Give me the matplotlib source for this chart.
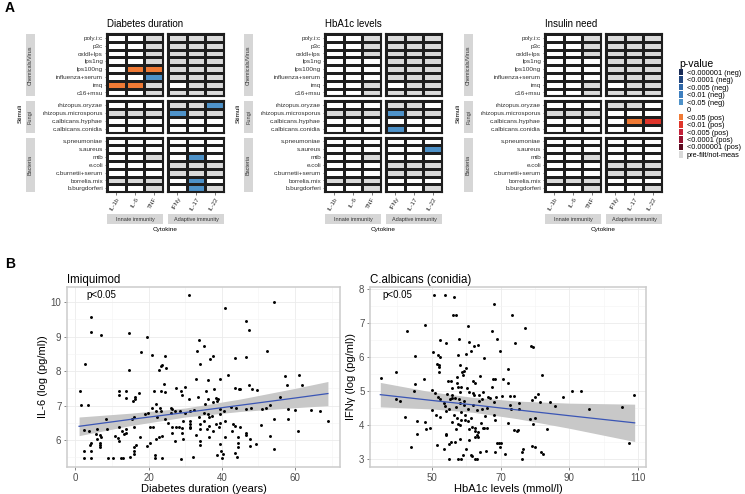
import numpy as np
import matplotlib
matplotlib.use("Agg")
import matplotlib.pyplot as plt
from matplotlib.colors import ListedColormap
from matplotlib.patches import Patch
from matplotlib.ticker import FixedLocator

plt.rcParams["font.family"] = ["Liberation Sans", "DejaVu Sans"]

# ---------------- data: panel A heatmaps ----------------
stimuli = ["poly.i:c", "p3c", "oxldl+lps", "lps1ng", "lps100ng", "influenza+serum", "imq", "c16+msu",
           "rhizopus.oryzae", "rhizopus.microsporus", "c.albicans.hyphae", "c.albicans.conidia",
           "s.pneumoniae", "s.aureus", "mtb", "e.coli", "c.burnetii+serum", "borrelia.mix", "b.burgdorferi"]
stim_groups = ["Chemicals/Virus", "Fungi", "Bacteria"]
group_sizes = [8, 4, 7]
cytokines = ["IL-1b", "IL-6", "TNF", "IFNy", "IL-17", "IL-22"]
cyto_groups = ["Innate immunity", "Adaptive immunity"]
panel_titles = ["Diabetes duration", "HbA1c levels", "Insulin need"]

# w = 0 / not significant, g = pre-filt/not-meas, b = <0.05 (neg), o = <0.05 (pos), r = <0.01 (pos)
cells_duration = ["wwgggg", "wwgggg", "wwgggg", "wwgggg", "wooggg", "wwbggg", "oogwgg", "wwgggg",
                  "wwwggb", "gggbgg", "wwwwww", "wwwwww",
                  "wwwwww", "wwwwww", "wwgwbw", "wwwggg", "wwwggg", "gggwbw", "wwgwbg"]
cells_hba1c = ["wwgggg", "wwgggg", "wwgggg", "wwwggg", "wwwggg", "wwwggg", "wwgwgg", "wwgggg",
               "wwwggw", "gggbgg", "wwwwww", "wwwbww",
               "wwwwww", "wwwwwb", "wwgwww", "wwwggg", "wwwggg", "gggwww", "wwgwwg"]
cells_insulin = ["wwgggg", "wwgggg", "wwgggg", "wwwggg", "wwwggg", "wwwggg", "wwgwgg", "wwgggg",
                 "wwwggw", "gggwww", "wwwwor", "wwwwww",
                 "wwwwww", "wwwwww", "wwgwww", "wwwggg", "wwwggg", "gggwww", "wwgwwg"]
panel_cells = [cells_duration, cells_hba1c, cells_insulin]

legend_labels = ["<0.000001 (neg)", "<0.0001 (neg)", "<0.005 (neg)", "<0.01 (neg)", "<0.05 (neg)", "0",
                 "<0.05 (pos)", "<0.01 (pos)", "<0.005 (pos)", "<0.0001 (pos)", "<0.000001 (pos)",
                 "pre-filt/not-meas"]
legend_colors = ["#172a55", "#22477f", "#2e66a6", "#3e7fbf", "#4e92c9", "#ffffff",
                 "#f07a35", "#e0352b", "#c42139", "#961331", "#5c0a1f", "#d9d9d9"]

# ---------------- data: panel B scatter plots ----------------
imq_x = [31.1, 54.2, 40.9, 4.3, 46.5, 47.4, 4.3, 14.7, 7.0, 19.5, 33.8, 35.0, 17.9, 33.2, 52.3, 46.7,
         20.8, 24.4, 37.6, 36.9, 43.6, 34.0, 2.5, 23.7, 23.5, 22.8, 14.6, 24.7, 57.2, 61.2, 41.8, 33.0,
         36.1, 39.6, 24.3, 30.0, 47.4, 57.9, 62.0, 48.3, 43.7, 44.6, 27.5, 28.9, 21.5, 17.3, 23.5, 24.4,
         11.9, 13.8, 11.9, 13.9, 16.4, 16.4, 15.6, 35.6, 38.0, 36.2, 37.6, 38.4, 38.7, 31.1, 29.1, 33.5,
         35.3, 39.0, 56.0, 53.1, 58.1, 48.1, 46.7, 44.0, 42.4, 39.5, 52.2, 51.0, 64.4, 60.0, 21.9, 20.8,
         21.9, 23.0, 23.5, 26.1, 26.3, 26.1, 27.2, 28.6, 30.0, 31.2, 32.5, 33.8, 35.1, 36.5, 37.4, 36.3,
         39.5, 40.5, 40.9, 39.5, 38.5, 39.3, 35.0, 34.0, 34.0, 36.5, 35.9, 37.5, 36.4, 34.0, 34.0, 32.9,
         31.3, 31.2, 31.2, 31.2, 29.4, 28.2, 29.1, 29.1, 26.3, 26.3, 27.4, 27.3, 29.3, 28.9, 32.2, 38.7,
         40.0, 40.2, 39.8, 43.6, 44.2, 39.4, 41.0, 42.7, 43.6, 43.1, 44.9, 44.4, 46.7, 47.8, 46.7, 44.5,
         44.5, 49.3, 47.6, 50.6, 54.2, 53.1, 54.4, 58.1, 60.8, 68.9, 2.4, 5.9, 3.7, 5.7, 5.9, 6.8,
         7.0, 6.8, 6.8, 6.8, 4.3, 4.1, 4.3, 2.3, 2.3, 4.3, 8.3, 8.6, 9.0, 10.2, 10.9, 11.5,
         11.9, 12.8, 13.2, 11.9, 12.4, 13.1, 13.7, 13.9, 15.9, 15.5, 15.9, 14.8, 15.9, 15.9, 15.9, 16.5,
         17.7, 19.1, 19.7, 19.5, 20.4, 20.4, 21.3, 21.7, 21.7, 21.9, 22.4, 22.8, 23.6, 23.7, 24.6, 25.3,
         1.2, 1.4, 3.4, 66.9, 45.1, 49.5]
imq_y = [10.22, 10.01, 9.83, 9.57, 9.46, 9.19, 9.13, 9.10, 9.05, 9.00, 8.89, 8.74, 8.56, 8.59, 8.57, 8.41,
         8.48, 8.43, 8.45, 8.36, 8.37, 8.21, 8.20, 8.18, 8.14, 8.04, 8.04, 8.10, 7.86, 7.88, 7.90, 7.76,
         7.75, 7.78, 7.62, 7.55, 7.59, 7.60, 7.59, 7.47, 7.52, 7.47, 7.50, 7.43, 7.43, 7.38, 7.43, 7.39,
         7.43, 7.43, 7.30, 7.23, 7.26, 7.20, 7.14, 7.43, 7.47, 7.18, 7.10, 7.21, 7.14, 7.19, 7.30, 7.26,
         7.05, 7.18, 7.26, 7.03, 6.90, 6.92, 6.89, 6.92, 6.96, 6.90, 6.92, 6.90, 6.87, 6.87, 7.04, 6.94,
         6.85, 6.94, 6.85, 6.94, 6.90, 6.80, 6.85, 6.85, 6.80, 6.85, 6.87, 6.68, 6.80, 6.66, 6.70, 6.77,
         6.75, 6.85, 6.56, 6.51, 6.48, 6.37, 6.56, 6.47, 6.32, 6.41, 6.32, 6.27, 6.10, 5.96, 5.87, 6.14,
         6.56, 6.46, 6.39, 6.34, 6.56, 6.37, 6.34, 6.22, 6.37, 6.22, 6.37, 5.96, 6.03, 5.45, 5.52, 5.56,
         5.48, 5.61, 5.69, 5.64, 5.50, 5.90, 6.08, 6.27, 6.41, 6.48, 6.37, 6.10, 6.22, 6.03, 6.15, 5.81,
         5.93, 5.88, 5.84, 6.44, 5.73, 6.13, 6.61, 6.61, 6.27, 6.56, 6.30, 6.33, 6.27, 6.17, 6.03, 6.15,
         6.08, 5.93, 5.87, 5.79, 5.93, 5.87, 5.69, 5.69, 5.47, 5.47, 6.61, 6.33, 5.47, 5.47, 6.13, 6.05,
         6.37, 6.27, 6.17, 5.98, 5.47, 5.47, 6.32, 6.22, 6.37, 6.61, 6.68, 5.51, 5.60, 5.69, 5.79, 5.86,
         6.10, 6.75, 6.80, 5.84, 5.93, 6.37, 6.37, 5.57, 5.47, 6.03, 6.66, 6.08, 5.47, 6.13, 6.61, 6.51,
         7.43, 7.01, 7.01, 6.85, 7.48, 7.45]

cand_x = [50.7, 53.9, 56.5, 68.2, 73.3, 56.2, 57.0, 48.1, 60.4, 77.2, 42.8, 67.6, 52.4, 54.0, 57.8, 68.9,
          60.9, 62.4, 63.5, 74.3, 78.7, 79.4, 50.3, 69.7, 59.8, 61.4, 51.7, 52.4, 45.2, 57.7, 65.3, 51.5,
          52.0, 58.2, 52.2, 59.9, 58.8, 59.4, 72.1, 39.6, 52.0, 59.0, 82.0, 63.9, 47.8, 54.8, 55.7, 57.4,
          62.0, 62.5, 67.7, 68.3, 70.7, 72.1, 35.3, 45.0, 39.7, 40.7, 44.8, 49.9, 50.8, 51.8, 52.5, 54.5,
          56.0, 55.8, 56.8, 57.8, 60.1, 60.9, 62.1, 62.4, 58.2, 59.4, 60.6, 63.7, 64.6, 66.2, 66.9, 68.7,
          70.4, 72.7, 73.8, 75.3, 75.3, 73.0, 79.1, 81.0, 80.0, 81.5, 84.5, 85.7, 88.1, 90.8, 93.4, 95.7,
          105.3, 108.9, 107.3, 50.0, 51.2, 52.5, 54.2, 54.9, 57.0, 56.4, 57.4, 58.6, 59.7, 59.7, 60.4, 61.3,
          61.8, 62.5, 62.6, 63.5, 63.2, 63.4, 64.8, 65.5, 66.1, 68.1, 68.3, 60.7, 57.7, 58.2, 57.0, 54.1,
          54.2, 55.7, 56.7, 58.2, 53.6, 55.1, 51.5, 48.4, 49.6, 42.3, 43.9, 45.6, 45.6, 48.1, 59.9, 61.4,
          61.6, 59.1, 62.5, 63.1, 55.1, 57.5, 58.6, 65.8, 69.0, 69.6, 70.2, 69.9, 71.2, 68.5, 76.2, 76.2,
          76.5, 79.1, 80.0, 81.8, 82.3, 74.8, 74.0, 75.2, 72.1, 83.6, 78.5, 79.3, 80.0, 72.6, 68.1, 66.1,
          63.2, 64.5, 62.1, 58.5, 55.9, 53.4, 53.8, 59.4, 65.0, 63.7, 67.4, 57.5, 57.3, 58.2, 55.2, 56.0,
          58.4, 64.2, 65.3, 62.5, 60.9, 64.0]
cand_y = [7.82, 7.82, 7.78, 7.58, 7.25, 7.24, 7.24, 6.96, 6.93, 6.87, 6.78, 6.77, 6.51, 6.43, 6.53, 6.53,
          6.45, 6.33, 6.35, 6.42, 6.33, 6.29, 6.17, 6.19, 6.09, 6.19, 6.08, 6.01, 6.04, 6.06, 5.98, 5.81,
          5.76, 5.78, 5.70, 5.69, 5.57, 5.61, 5.67, 5.57, 5.57, 5.49, 5.49, 5.45, 5.35, 5.29, 5.30, 5.25,
          5.31, 5.25, 5.35, 5.37, 5.35, 5.23, 5.39, 5.21, 4.76, 4.71, 5.00, 5.03, 4.94, 4.83, 4.76, 4.93,
          5.10, 4.88, 4.80, 4.78, 5.10, 4.98, 4.94, 4.90, 4.65, 4.61, 4.47, 4.71, 4.78, 4.83, 4.80, 4.84,
          4.86, 4.85, 4.85, 4.66, 4.49, 4.49, 4.75, 4.92, 4.84, 4.69, 4.69, 4.57, 4.84, 5.00, 5.00, 4.49,
          4.54, 4.88, 3.49, 4.46, 4.29, 4.25, 4.42, 4.47, 4.54, 4.30, 4.22, 4.14, 4.29, 4.15, 4.13, 4.20,
          3.96, 3.92, 3.83, 3.80, 3.71, 3.66, 3.91, 4.26, 3.93, 4.29, 4.16, 3.90, 4.05, 4.00, 3.90, 3.75,
          3.71, 3.51, 3.51, 3.59, 3.29, 3.46, 3.43, 3.90, 3.92, 4.25, 3.37, 3.74, 4.12, 4.10, 3.29, 3.12,
          3.10, 3.12, 3.00, 3.02, 3.00, 3.00, 3.00, 3.23, 3.49, 3.49, 3.49, 3.36, 3.14, 3.22, 3.01, 3.20,
          3.31, 3.38, 3.36, 3.21, 3.14, 3.83, 3.85, 3.85, 4.08, 3.90, 4.18, 4.03, 4.20, 4.59, 4.68, 4.52,
          4.44, 4.47, 4.60, 5.12, 4.80, 4.65, 4.58, 4.72, 4.98, 4.88, 5.13, 5.13, 5.42, 4.98, 4.78, 4.10,
          4.39, 4.07, 3.93, 3.64, 3.56, 3.22]

# fitted lm lines with 95% band
imq_fit_x = [1, 15, 30, 45, 60, 69]
imq_fit_y = [6.40, 6.60, 6.80, 7.01, 7.22, 7.35]
imq_fit_se = [0.27, 0.18, 0.13, 0.18, 0.28, 0.35]
cand_fit_x = [35, 50, 62, 75, 90, 109]
cand_fit_y = [4.90, 4.73, 4.60, 4.45, 4.28, 4.07]
cand_fit_se = [0.36, 0.25, 0.22, 0.26, 0.37, 0.55]

imq_xticks = [0, 20, 40, 60]
imq_yticks = [6, 7, 8, 9, 10]
cand_xticks = [50, 70, 90, 110]
cand_yticks = [3, 4, 5, 6, 7, 8]

W, H = 745, 494


def box(x0, y0, x1, y1):
    return [x0 / W, 1 - y1 / H, (x1 - x0) / W, (y1 - y0) / H]


fig = plt.figure(figsize=(W / 100, H / 100), dpi=100)

# ---------------- panel A ----------------
keys = "wgbor"
cmap = ListedColormap(["#ffffff", "#dadada", "#4e92c9", "#f07a35", "#e0352b"])
panel_x = [107, 325, 545]
group_y = [(34, 96.4), (101.4, 132.6), (137.6, 192.2)]
strip_grey = "#d6d6d6"

for p in range(3):
    bx = panel_x[p]
    rows = panel_cells[p]
    start = 0
    for g in range(3):
        n = group_sizes[g]
        grows = rows[start:start + n]
        glabels = stimuli[start:start + n]
        y0, y1 = group_y[g]
        for c in range(2):
            x0 = bx + c * 61
            ax = fig.add_axes(box(x0, y0, x0 + 56, y1))
            mat = np.array([[keys.index(ch) for ch in r[c * 3:c * 3 + 3]] for r in grows])
            ax.pcolormesh(mat, cmap=cmap, vmin=-0.5, vmax=4.5, edgecolors="#1e1e1e", linewidth=0.9)
            ax.set_xlim(0, 3)
            ax.set_ylim(n, 0)
            for s in ax.spines.values():
                s.set_linewidth(1.5)
                s.set_color("#1e1e1e")
            ax.tick_params(length=1.8, width=0.5, color="#444444", pad=1, labelsize=4.6, labelcolor="#333333")
            if c == 0:
                ax.set_yticks(np.arange(n) + 0.5, glabels)
            else:
                ax.set_yticks([])
            if g == 2:
                ax.set_xticks(np.arange(3) + 0.5, cytokines[c * 3:c * 3 + 3], rotation=60,
                              ha="right", rotation_mode="anchor")
            else:
                ax.set_xticks([])
        # row strip
        sax = fig.add_axes(box(bx - 81, y0, bx - 72, y1))
        sax.set_facecolor(strip_grey)
        sax.set_xticks([])
        sax.set_yticks([])
        for s in sax.spines.values():
            s.set_visible(False)
        sax.text(0.5, 0.5, stim_groups[g], rotation=90, ha="center", va="center",
                 fontsize=4, color="#333333", transform=sax.transAxes)
        start += n
    fig.text((bx - 87) / W, 1 - 113 / H, "Stimuli", rotation=90, ha="center", va="center", fontsize=4.6)
    # column strips
    for c in range(2):
        x0 = bx + c * 61
        cax = fig.add_axes(box(x0, 214, x0 + 56, 224))
        cax.set_facecolor(strip_grey)
        cax.set_xticks([])
        cax.set_yticks([])
        for s in cax.spines.values():
            s.set_visible(False)
        cax.text(0.5, 0.5, cyto_groups[c], ha="center", va="center", fontsize=4, color="#333333",
                 transform=cax.transAxes)
    fig.text((bx + 58.5) / W, 1 - 229.5 / H, "Cytokine", ha="center", va="center", fontsize=4.6)
    fig.text(bx / W, 1 - 24 / H, panel_titles[p], ha="left", va="center", fontsize=7)

handles = [Patch(facecolor=col, edgecolor="none", label=lab) for col, lab in zip(legend_colors, legend_labels)]
leg = fig.legend(handles=handles, loc="upper left", bbox_to_anchor=(674 / W, 1 - 54 / H), frameon=False,
                 fontsize=5.3, title="p-value", title_fontsize=7.5, handlelength=0.55, handleheight=0.95,
                 labelspacing=-0.03, handletextpad=0.5, borderpad=0.2, alignment="left")

fig.text(5 / W, 1 - 8 / H, "A", fontsize=10, fontweight="bold", va="center")
fig.text(5 / W, 1 - 264 / H, "B", fontsize=10, fontweight="bold", va="center")


# ---------------- panel B ----------------
def scatter_panel(rect, xs, ys, fx, fy, fse, xlim, ylim, xticks, yticks, title, xlabel, ylabel, ptxt, px):
    ax = fig.add_axes(box(*rect))
    ax.set_xlim(*xlim)
    ax.set_ylim(*ylim)
    xstep = xticks[1] - xticks[0]
    ystep = yticks[1] - yticks[0]
    ax.xaxis.set_major_locator(FixedLocator(xticks))
    ax.xaxis.set_minor_locator(FixedLocator([t - xstep / 2 for t in xticks] + [xticks[-1] + xstep / 2]))
    ax.yaxis.set_major_locator(FixedLocator(yticks))
    ax.yaxis.set_minor_locator(FixedLocator([t - ystep / 2 for t in yticks] + [yticks[-1] + ystep / 2]))
    ax.grid(which="major", color="#ebebeb", linewidth=0.6)
    ax.grid(which="minor", color="#f4f4f4", linewidth=0.4)
    ax.set_axisbelow(True)
    fx = np.array(fx)
    fy = np.array(fy)
    fse = np.array(fse)
    ax.fill_between(fx, fy - fse, fy + fse, color="#c8c8c8", linewidth=0, zorder=2)
    ax.scatter(xs, ys, s=4.5, color="black", linewidths=0, zorder=3)
    ax.plot(fx, fy, color="#3a55b5", linewidth=0.9, zorder=4)
    for s in ax.spines.values():
        s.set_color("#cccccc")
        s.set_linewidth(1.1)
    ax.tick_params(which="major", length=2.5, width=0.5, color="#555555", labelsize=7, labelcolor="#4d4d4d", pad=1.5)
    ax.tick_params(which="minor", length=0)
    ax.set_xlabel(xlabel, fontsize=8, labelpad=1)
    ax.set_ylabel(ylabel, fontsize=8, labelpad=2)
    ax.set_title(title, fontsize=8.3, loc="left", pad=3)
    ax.text(px, 0.955, ptxt, transform=ax.transAxes, fontsize=7, ha="left", va="center")
    return ax


scatter_panel((67, 287, 340, 467), imq_x, imq_y, imq_fit_x, imq_fit_y, imq_fit_se,
              (-2.3, 72.3), (5.22, 10.44), imq_xticks, imq_yticks, "Imiquimod", "Diabetes duration (years)",
              "IL-6 (log (pg/ml))", "p<0.05", 0.07)
scatter_panel((370, 287, 646, 467), cand_x, cand_y, cand_fit_x, cand_fit_y, cand_fit_se,
              (32, 112.3), (2.77, 8.07), cand_xticks, cand_yticks, "C.albicans (conidia)", "HbA1c levels (mmol/l)",
              "IFNγ (log (pg/ml))", "p<0.05", 0.045)

fig.savefig("out.png", dpi=100)
